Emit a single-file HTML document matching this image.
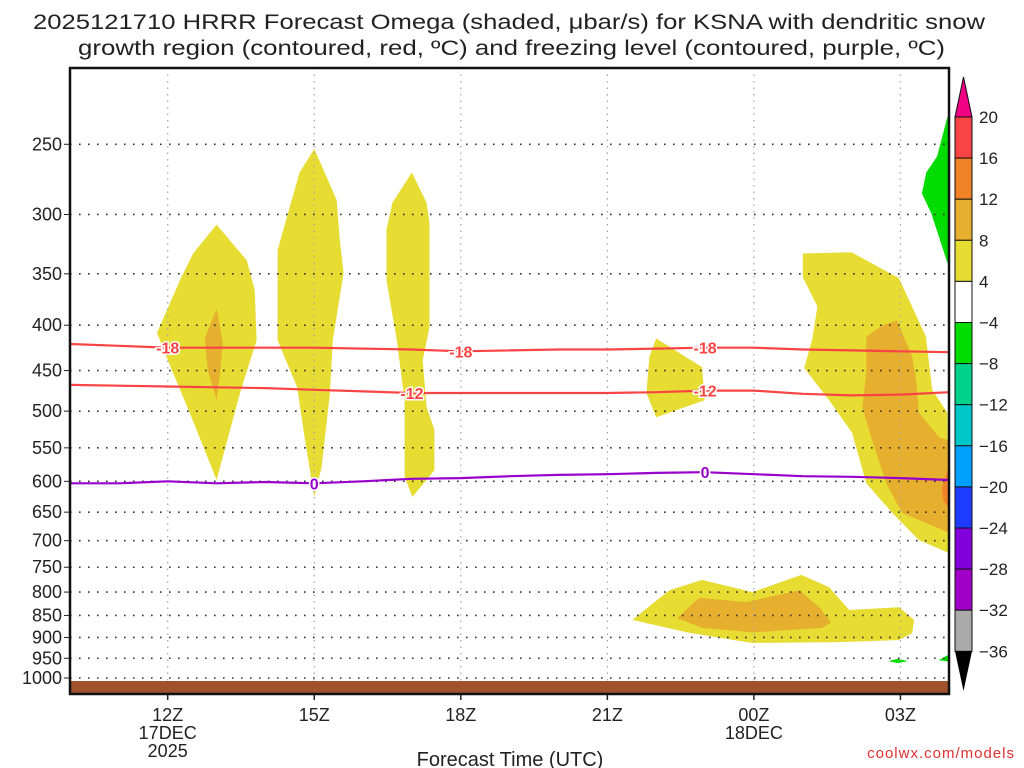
<!DOCTYPE html>
<html><head><meta charset="utf-8"><style>
html,body{margin:0;padding:0;background:#fff;}
svg{display:block;font-family:"Liberation Sans","DejaVu Sans",sans-serif;}
</style></head><body>
<svg id="chart" width="1024" height="768" viewBox="0 0 1024 768" xmlns="http://www.w3.org/2000/svg">
<text x="33" y="29" font-size="21" fill="#222" textLength="952" lengthAdjust="spacingAndGlyphs">2025121710 HRRR Forecast Omega (shaded, μbar/s) for KSNA with dendritic snow</text>
<text x="78" y="55" font-size="21" fill="#222" textLength="867" lengthAdjust="spacingAndGlyphs">growth region (contoured, red, ºC) and freezing level (contoured, purple, ºC)</text>
<g id="plot"></g>
<text x="510" y="766" font-size="20" fill="#222" text-anchor="middle">Forecast Time (UTC)</text>
<text x="1015" y="758" font-size="15" fill="#e03030" text-anchor="end" letter-spacing="1">coolwx.com/models</text>
</svg>
<script>
// ---- data ----
var pressureTicks = [250,300,350,400,450,500,550,600,650,700,750,800,850,900,950,1000];
var timeTickHours = [12,15,18,21,24,27];
var timeTickLabels = ["12Z","15Z","18Z","21Z","00Z","03Z"];
var lineHours = [10,11,12,13,14,15,16,17,18,19,20,21,22,23,24,25,26,27,28];
var dgzMinus18 = [420,422,424,424,424,424,425,426,428,427,426,426,425,424,424,426,427,428,429];
var dgzMinus12 = [467,468,469,470,471,473,475,477,477,477,477,477,476,474,474,478,480,479,476];
var freezingLevel = [603,603,600,603,601,603,600,596,595,592,590,589,587,586,589,592,593,595,598];
var colorLevels = [20,16,12,8,4,-4,-8,-12,-16,-20,-24,-28,-32,-36];
var colorFills = ["#f84444","#f08228","#e6af2d","#e6dc32","#ffffff","#00dc00","#00d28c","#00c8c8","#00a0ff","#1e3cff","#8200dc","#a000c8","#aaaaaa"];
// omega shaded regions: [hour, hPa]
var omegaA = [[13.0,308],[13.62,338],[13.78,365],[13.82,416],[13.48,477],[13.0,598],[12.45,502],[12.11,453],[11.78,408],[12.25,356],[12.52,332]];
var omegaAcore = [[13.0,383],[13.13,419],[13.07,453],[13.0,486],[12.82,449],[12.76,414]];
var omegaB = [[15.0,253],[15.46,289],[15.52,320],[15.6,349],[15.38,416],[15.32,477],[15.15,578],[15.0,625],[14.81,539],[14.65,470],[14.25,416],[14.25,329],[14.5,294],[14.7,269]];
var omegaC = [[17.0,269],[17.3,291],[17.36,307],[17.36,402],[17.22,438],[17.3,495],[17.46,525],[17.46,583],[17.01,625],[16.85,593],[16.85,486],[16.69,416],[16.48,356],[16.48,312],[16.6,291]];
var omegaD = [[22.0,414],[22.94,446],[22.99,486],[22.0,508],[21.8,477],[21.86,434]];
var omegaE = [[25.0,332],[26.0,331],[26.97,354],[27.52,412],[27.65,473],[27.96,502],[28.0,723],[27.38,699],[26.83,651],[26.3,603],[26.01,529],[25.54,486],[25.03,447],[25.19,416],[25.3,381],[25.0,353]];
var omegaEcore = [[26.93,395],[27.24,434],[27.32,461],[27.38,502],[27.79,535],[28.0,539],[28.0,686],[27.03,651],[26.71,603],[26.42,539],[26.22,495],[26.3,453],[26.3,412],[26.63,400]];
var omegaEpeak = [[28.0,575],[27.85,610],[27.87,630],[28.0,645]];
var omegaF = [[21.51,860],[22.27,796],[22.94,775],[23.97,800],[24.97,765],[25.54,790],[25.95,838],[26.97,832],[27.28,860],[27.24,890],[26.97,906],[25.75,911],[23.97,913],[22.62,888]];
var omegaFcore = [[22.43,856],[22.88,812],[23.84,821],[24.93,796],[25.34,832],[25.58,865],[25.4,878],[23.97,888],[22.94,878]];
var sinkG1 = [[28.0,233],[27.96,233],[27.75,258],[27.53,269],[27.44,284],[27.63,299],[27.79,318],[27.96,340],[28.0,340]];
var sinkG2 = [[26.75,957],[26.95,951],[27.15,957],[26.95,962]];
var sinkG3 = [[27.78,955],[28.0,940],[28.0,958]];
// ---- axes ----
var X0=70, X1=949, Y0=68, Y1=694;
function xs(h){return X0+(h-10)*48.85;}
function ys(p){return 678-385*Math.log(1000/p);}
var NS="http://www.w3.org/2000/svg";
var plot=document.getElementById('plot');
function mk(tag,attrs,parent){var e=document.createElementNS(NS,tag);for(var k in attrs)e.setAttribute(k,attrs[k]);(parent||plot).appendChild(e);return e;}
function poly(pts,fill,name){
  var e=mk('polygon',{points:pts.map(function(q){return xs(q[0]).toFixed(1)+','+ys(q[1]).toFixed(1);}).join(' '),fill:fill});
  
  
}
mk('rect',{x:X0,y:Y0,width:X1-X0,height:Y1-Y0,fill:'#fff'});
var Y="#e6dc32",O="#e6af2d",G="#00dc00";
poly(omegaA,Y,'omega-region-12z');poly(omegaAcore,O,'omega-core-12z');
poly(omegaB,Y,'omega-region-15z');poly(omegaC,Y,'omega-region-17z');
poly(omegaD,Y,'omega-region-22z');
poly(omegaE,Y,'omega-region-02z');poly(omegaEcore,O,'omega-core-02z');poly(omegaEpeak,"#f08228",'omega-peak-03z');
poly(omegaF,Y,'omega-region-lowlevel');poly(omegaFcore,O,'omega-core-lowlevel');
poly(sinkG1,G,'sinking-region-upper');poly(sinkG2,G,'sinking-region-low1');poly(sinkG3,G,'sinking-region-low2');
// grid
pressureTicks.forEach(function(p){
  var y=ys(p);
  var l=mk('line',{x1:X0,x2:X1,y1:y,y2:y,stroke:'#333','stroke-width':1.6,'stroke-dasharray':'1.6 7.4'});
  
  
  var t=mk('text',{x:62,y:y+6,'font-size':18,'text-anchor':'end',fill:'#222'});
  t.textContent=p;
  
  
  mk('line',{x1:X0-6,x2:X0,y1:y,y2:y,stroke:'#222','stroke-width':1});
});
timeTickHours.forEach(function(h,i){
  var x=xs(h);
  var l=mk('line',{x1:x,x2:x,y1:Y0,y2:Y1,stroke:'#aaa','stroke-width':1.3,'stroke-dasharray':'1.5 5'});
  
  
  mk('line',{x1:x,x2:x,y1:Y1,y2:Y1+6,stroke:'#222','stroke-width':1.5});
  var t=mk('text',{x:x,y:721,'font-size':18,'text-anchor':'middle',fill:'#222'});
  t.textContent=timeTickLabels[i];
  
  
});
function sub(x,y,s,n){var t=mk('text',{x:x,y:y,'font-size':18,'text-anchor':'middle',fill:'#222'});t.textContent=s;}
sub(xs(12),739,'17DEC','date-label-17dec');sub(xs(12),757,'2025','year-label');sub(xs(24),739,'18DEC','date-label-18dec');
// ground
var gr=mk('rect',{x:X0,y:681,width:X1-X0,height:Y1-681,fill:'#a0522d'});


// contour lines
function line(vals,color,name,labelHours,label){
  var d=lineHours.map(function(h,i){return (i?'L':'M')+xs(h).toFixed(1)+','+ys(vals[i]).toFixed(1);}).join(' ');
  var e=mk('path',{d:d,fill:'none',stroke:color,'stroke-width':2.2});
  
  
  labelHours.forEach(function(h){
    var i=lineHours.indexOf(Math.floor(h)),f=h-Math.floor(h);
    var p=vals[i]+(i+1<vals.length?(vals[i+1]-vals[i])*f:0);
    var x=xs(h),y=ys(p);
    var t=mk('text',{x:x,y:y+6,'font-size':16,'font-weight':'bold','text-anchor':'middle',fill:color,stroke:'#fff','stroke-width':3,'paint-order':'stroke'});
    t.textContent=label;
    
    
  });
}
line(dgzMinus18,'#f84444','dgz-minus18-contour',[12,18,23],'-18');
line(dgzMinus12,'#f84444','dgz-minus12-contour',[17,23],'-12');
line(freezingLevel,'#9900cc','freezing-level-contour',[15,23],'0');
// frame
var fr=mk('rect',{x:X0,y:Y0,width:X1-X0,height:Y1-Y0,fill:'none',stroke:'#111','stroke-width':2.5});


// colorbar
var cbX=955,cbW=17,cbTop=117,cbH=41.1;
var cb=mk('g',{});


mk('polygon',{points:(cbX)+','+cbTop+' '+(cbX+cbW)+','+cbTop+' '+(cbX+cbW/2)+',77',fill:'#f00082',stroke:'#111','stroke-width':1},cb);
colorFills.forEach(function(c,i){
  var r=mk('rect',{x:cbX,y:cbTop+i*cbH,width:cbW,height:cbH,fill:c,stroke:'#111','stroke-width':1},cb);
  
  
});
var cbBot=cbTop+colorFills.length*cbH;
mk('polygon',{points:cbX+','+cbBot+' '+(cbX+cbW)+','+cbBot+' '+(cbX+cbW/2)+',691',fill:'#000'},cb);
colorLevels.forEach(function(v,i){
  var t=mk('text',{x:979,y:cbTop+i*cbH+6,'font-size':17,fill:'#222'},cb);
  t.textContent=v<0?'\u2212'+(-v):String(v);
  
  
});
</script>
</body></html>
